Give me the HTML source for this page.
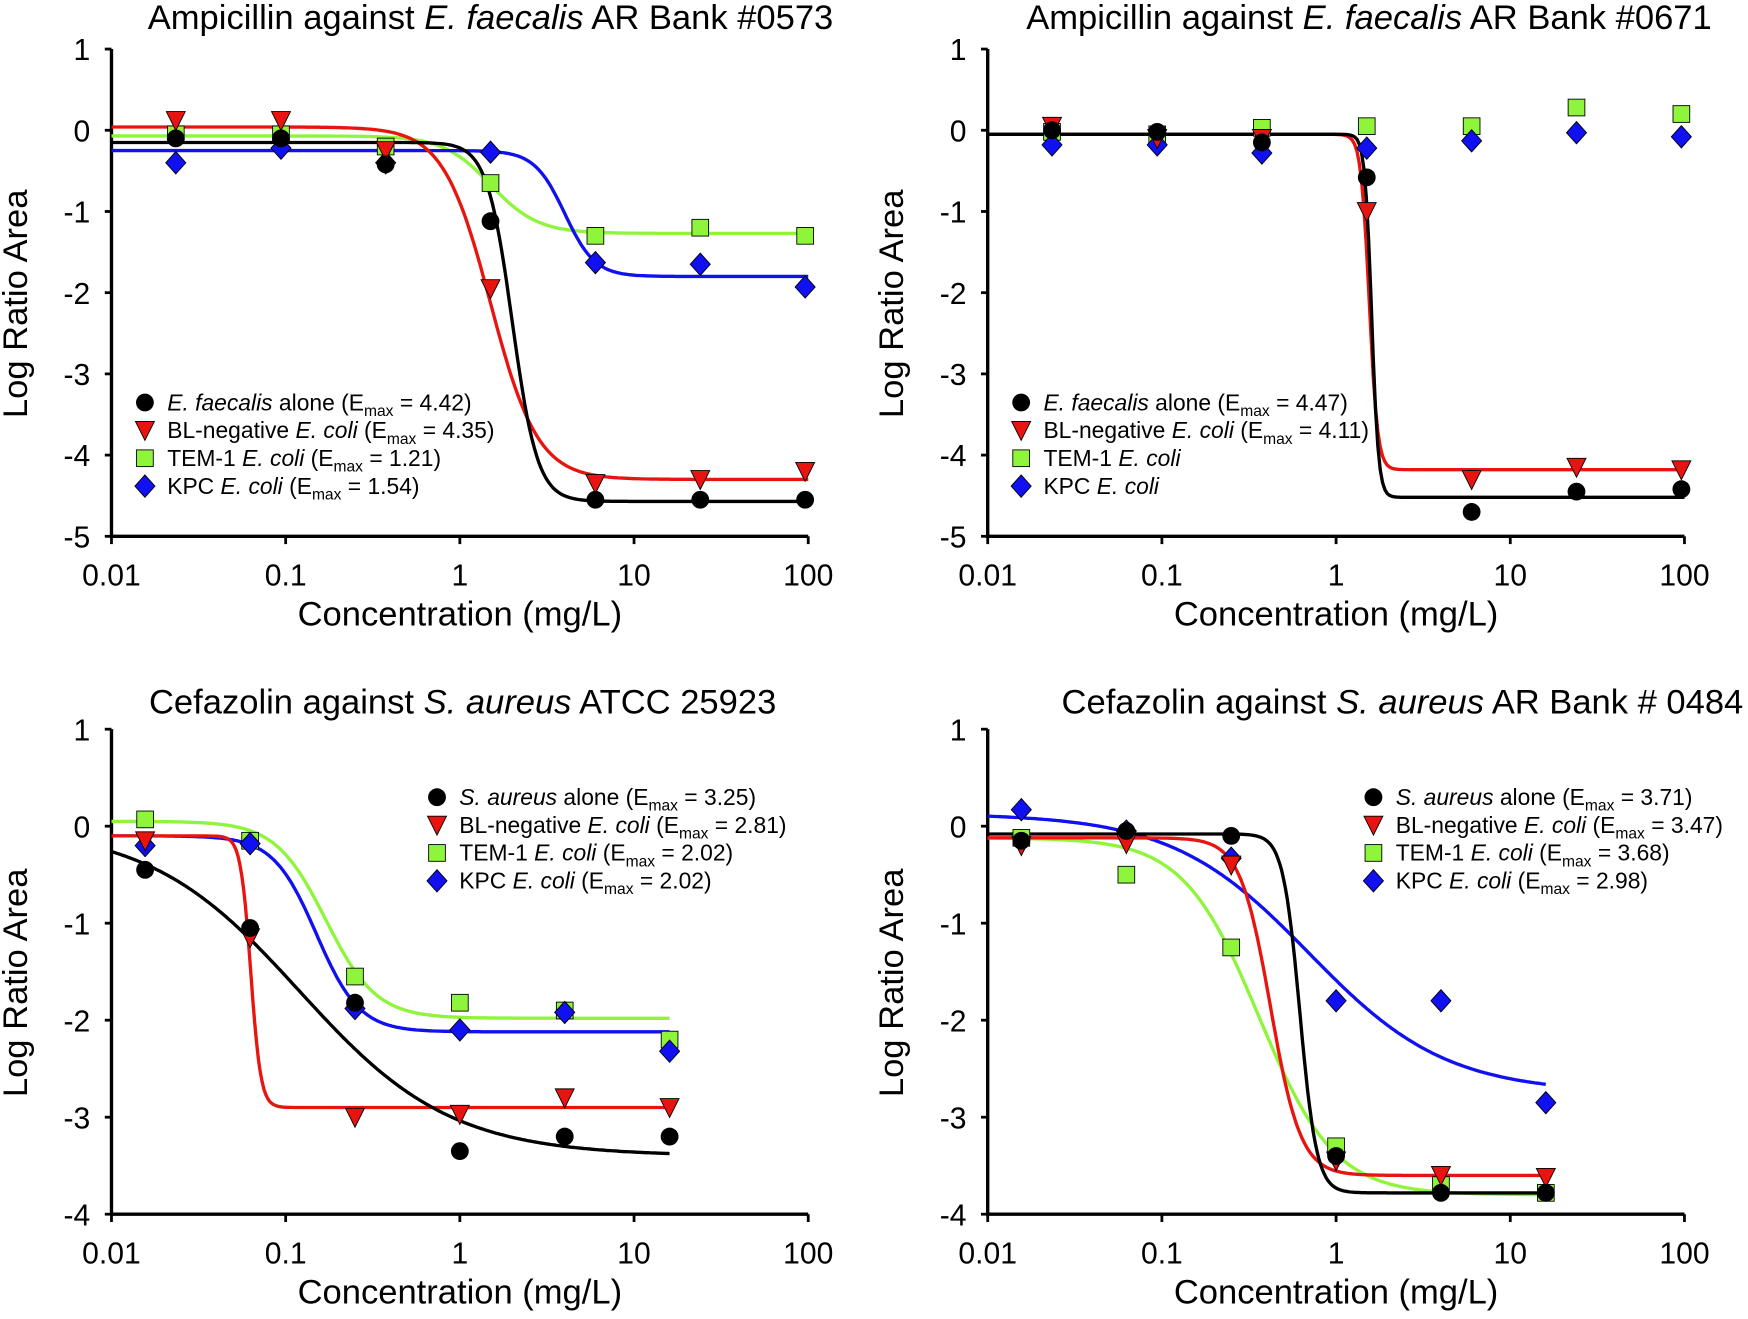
<!DOCTYPE html>
<html><head><meta charset="utf-8"><style>
html,body{margin:0;padding:0;background:#fff}
svg{display:block}
text{font-family:"Liberation Sans",Arial,sans-serif;fill:#000}
</style></head><body>
<svg id="s" width="1748" height="1319" viewBox="0 0 1568 1183" preserveAspectRatio="none" xmlns="http://www.w3.org/2000/svg"></svg>
<script>
const S=document.getElementById('s');
let h='';
const C={k:'#000',r:'#e8140f',g:'#8ef53b',b:'#1010f0'};
const sub=v=>`(E<tspan font-size="14" dy="5">max</tspan><tspan dy="-5"> = ${v})</tspan>`;
const panels=[
 {x0:100,x1:725,yt:44,yb:481,ymax:1,ymin:-5,title:'Ampicillin against <tspan font-style="italic">E. faecalis</tspan> AR Bank #0573',tx:440,ty:26,
  xs:[0.0234,0.094,0.375,1.5,6,24,96],cx:[0.01,100],
  curves:[['g',-0.07,-1.27,1.5,3.2],['b',-0.25,-1.8,4.0,5],['r',0.04,-4.3,1.5,3.2],['k',-0.15,-4.57,2.0,6]],
  pts:{g:[-0.05,-0.05,-0.2,-0.65,-1.3,-1.2,-1.3],b:[-0.4,-0.22,-0.4,-0.27,-1.63,-1.65,-1.93],r:[0.12,0.12,-0.25,-1.95,-4.35,-4.3,-4.2],k:[-0.1,-0.1,-0.42,-1.12,-4.55,-4.55,-4.55]},
  leg:{x:130,y:361,items:[['k','<tspan font-style="italic">E. faecalis</tspan> alone '+sub('4.42')],['r','BL-negative <tspan font-style="italic">E. coli</tspan> '+sub('4.35')],['g','TEM-1 <tspan font-style="italic">E. coli</tspan> '+sub('1.21')],['b','KPC <tspan font-style="italic">E. coli</tspan> '+sub('1.54')]]}},
 {x0:886,x1:1511,yt:44,yb:481,ymax:1,ymin:-5,title:'Ampicillin against <tspan font-style="italic">E. faecalis</tspan> AR Bank #0671',tx:1228,ty:26,
  xs:[0.0234,0.094,0.375,1.5,6,24,96],cx:[0.01,100],
  curves:[['r',-0.05,-4.18,1.55,18],['k',-0.05,-4.52,1.6,22]],
  pts:{g:[-0.02,-0.05,0.03,0.05,0.05,0.28,0.2],b:[-0.18,-0.18,-0.28,-0.22,-0.13,-0.03,-0.08],r:[0.05,-0.1,-0.1,-1.0,-4.3,-4.15,-4.18],k:[0,-0.02,-0.15,-0.58,-4.7,-4.45,-4.42]},
  leg:{x:916,y:361,items:[['k','<tspan font-style="italic">E. faecalis</tspan> alone '+sub('4.47')],['r','BL-negative <tspan font-style="italic">E. coli</tspan> '+sub('4.11')],['g','TEM-1 <tspan font-style="italic">E. coli</tspan>'],['b','KPC <tspan font-style="italic">E. coli</tspan>']]}},
 {x0:100,x1:725,yt:654,yb:1089,ymax:1,ymin:-4,title:'Cefazolin against <tspan font-style="italic">S. aureus</tspan> ATCC 25923',tx:415,ty:640,
  xs:[0.0156,0.0625,0.25,1,4,16],cx:[0.01,16],
  curves:[['g',0.05,-1.98,0.17,3],['b',-0.1,-2.12,0.15,3.5],['r',-0.1,-2.9,0.063,15],['k',0,-3.4,0.12,1]],
  pts:{g:[0.07,-0.15,-1.55,-1.82,-1.9,-2.2],b:[-0.2,-0.18,-1.88,-2.1,-1.92,-2.32],r:[-0.15,-1.15,-3.0,-2.97,-2.8,-2.9],k:[-0.45,-1.05,-1.82,-3.35,-3.2,-3.2]},
  leg:{x:392,y:715,items:[['k','<tspan font-style="italic">S. aureus</tspan> alone '+sub('3.25')],['r','BL-negative <tspan font-style="italic">E. coli</tspan> '+sub('2.81')],['g','TEM-1 <tspan font-style="italic">E. coli</tspan> '+sub('2.02')],['b','KPC <tspan font-style="italic">E. coli</tspan> '+sub('2.02')]]}},
 {x0:886,x1:1511,yt:654,yb:1089,ymax:1,ymin:-4,title:'Cefazolin against <tspan font-style="italic">S. aureus</tspan> AR Bank # 0484',tx:1258,ty:640,
  xs:[0.0156,0.0625,0.25,1,4,16],cx:[0.01,16],
  curves:[['b',0.13,-2.75,0.7,1.1],['g',-0.12,-3.8,0.36,2],['r',-0.12,-3.6,0.42,5],['k',-0.08,-3.78,0.62,9]],
  pts:{g:[-0.12,-0.5,-1.25,-3.3,-3.7,-3.78],b:[0.17,-0.05,-0.33,-1.8,-1.8,-2.85],r:[-0.2,-0.18,-0.4,-3.45,-3.6,-3.62],k:[-0.15,-0.05,-0.1,-3.4,-3.78,-3.78]},
  leg:{x:1232,y:715,items:[['k','<tspan font-style="italic">S. aureus</tspan> alone '+sub('3.71')],['r','BL-negative <tspan font-style="italic">E. coli</tspan> '+sub('3.47')],['g','TEM-1 <tspan font-style="italic">E. coli</tspan> '+sub('3.68')],['b','KPC <tspan font-style="italic">E. coli</tspan> '+sub('2.98')]]}}
];
function mk(c,x,y){
 const f=C[c];
 if(c=='k')return `<circle cx="${x}" cy="${y}" r="8" fill="#000"/>`;
 if(c=='r')return `<path d="M${x-8.5} ${y-8}L${x+8.5} ${y-8}L${x} ${y+9}Z" fill="${f}" stroke="#000" stroke-width="0.8"/>`;
 if(c=='g')return `<rect x="${x-7.5}" y="${y-7.5}" width="15" height="15" fill="${f}" stroke="#000" stroke-width="0.8"/>`;
 return `<path d="M${x} ${y-10}L${x+9} ${y}L${x} ${y+10}L${x-9} ${y}Z" fill="${f}" stroke="#000" stroke-width="0.8"/>`;
}
for(const p of panels){
 const X=v=>p.x0+(p.x1-p.x0)*(Math.log10(v)+2)/4;
 const Y=v=>p.yt+(p.yb-p.yt)*(p.ymax-v)/(p.ymax-p.ymin);
 h+=`<text x="${p.tx}" y="${p.ty}" font-size="31" text-anchor="middle">${p.title}</text>`;
 h+=`<path d="M${p.x0} ${p.yt}V${p.yb}H${p.x1}" fill="none" stroke="#000" stroke-width="3"/>`;
 for(let v=p.ymax;v>=p.ymin;v--){const y=Y(v);h+=`<line x1="${p.x0-6}" x2="${p.x0}" y1="${y}" y2="${y}" stroke="#000" stroke-width="2.5"/><text x="${p.x0-19}" y="${y+10}" font-size="27" text-anchor="end">${v<0?'-'+(-v):v}</text>`;}
 ['0.01','0.1','1','10','100'].forEach((t,i)=>{const x=p.x0+(p.x1-p.x0)*i/4;h+=`<line x1="${x}" x2="${x}" y1="${p.yb}" y2="${p.yb+7}" stroke="#000" stroke-width="2.5"/><text x="${x}" y="${p.yb+44}" font-size="27" text-anchor="middle">${t}</text>`;});
 h+=`<text x="${(p.x0+p.x1)/2}" y="${p.yb+80}" font-size="31" text-anchor="middle">Concentration (mg/L)</text>`;
 const yc=(p.yt+p.yb)/2;
 h+=`<text transform="translate(${p.x0-76},${yc+10}) rotate(-90)" font-size="31" text-anchor="middle">Log Ratio Area</text>`;
 for(const [c,top,bot,ec,n] of p.curves){
  let d='';const a=Math.log10(p.cx[0]),b=Math.log10(p.cx[1]);
  for(let i=0;i<=300;i++){const lx=a+(b-a)*i/300,x=Math.pow(10,lx);const y=top+(bot-top)/(1+Math.pow(ec/x,n));d+=(i?'L':'M')+X(x).toFixed(1)+' '+Y(y).toFixed(1);}
  h+=`<path d="${d}" fill="none" stroke="${C[c]}" stroke-width="3"/>`;
 }
 for(const c of ['g','b','r','k']){p.pts[c].forEach((v,i)=>{h+=mk(c,X(p.xs[i]),Y(v));});}
 p.leg.items.forEach(([c,t],i)=>{const y=p.leg.y+i*25;h+=mk(c,p.leg.x,y)+`<text x="${p.leg.x+20}" y="${y+7}" font-size="20.5">${t}</text>`;});
}
S.innerHTML=h;
</script>
</body></html>
